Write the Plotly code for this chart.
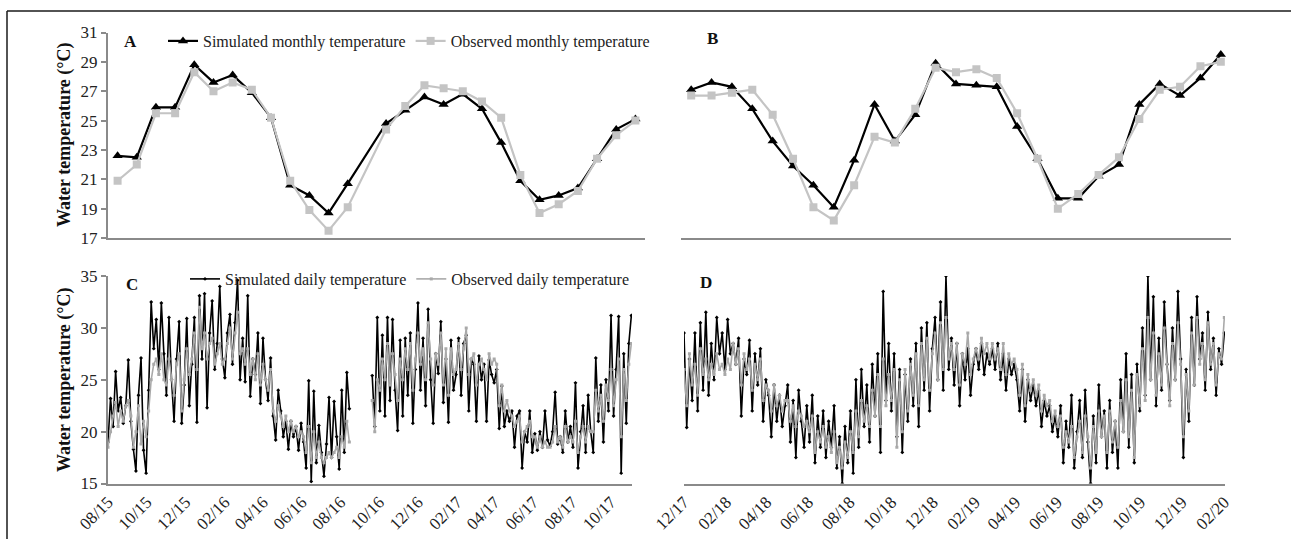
import plotly.graph_objects as go
import pandas as pd

W, H = 1291, 539
SERIF = "Liberation Serif, Times New Roman, serif"
OBS_M = "#c4c4c4"
OBS_D = "#a9a9a9"
AXC = "#8a8a8a"

# ---------------- monthly data ----------------
months_A = list(pd.date_range("2015-08-01", periods=28, freq="MS").strftime("%m/%y"))
A_sim = [22.6, 22.5, 25.9, 25.9, 28.8, 27.6, 28.1, 26.9, 25.2, 20.6, 19.9, 18.7, 20.7, None,
         24.8, 25.7, 26.6, 26.1, 26.8, 25.8, 23.5, 20.9, 19.6, 19.9, 20.4, 22.4, 24.4, 25.1]
A_obs = [20.9, 22.0, 25.5, 25.5, 28.3, 27.0, 27.6, 27.1, 25.2, 20.9, 18.9, 17.5, 19.1, None,
         24.4, 26.0, 27.4, 27.2, 27.0, 26.3, 25.2, 21.3, 18.7, 19.3, 20.2, 22.4, 24.0, 25.0]

months_B = list(pd.date_range("2017-12-01", periods=27, freq="MS").strftime("%m/%y"))
B_sim = [27.1, 27.6, 27.3, 25.8, 23.6, 21.9, 20.6, 19.1, 22.3, 26.1, 23.6, 25.4, 28.9, 27.5,
         27.4, 27.3, 24.6, 22.4, 19.7, 19.7, 21.2, 22.0, 26.1, 27.5, 26.7, 27.9, 29.5]
B_obs = [26.7, 26.7, 26.9, 27.1, 25.4, 22.4, 19.1, 18.2, 20.6, 23.9, 23.5, 25.8, 28.6, 28.3,
         28.5, 27.9, 25.5, 22.4, 19.0, 20.0, 21.3, 22.5, 25.1, 27.1, 27.3, 28.7, 29.0]

# ---------------- daily data (read every 4th day) ----------------
C_sim = [19.0, 23.2, 20.5, 25.8, 22.0, 23.3, 20.8, 22.5,
         26.9, 21.0, 18.3, 16.2, 23.5, 27.1, 18.2, 16.0,
         24.0, 32.5, 28.0, 30.8, 26.0, 32.4, 27.5,
         23.5, 31.0, 25.0, 21.0, 27.0, 30.6, 20.8, 24.5,
         30.9, 22.5, 26.5, 31.0, 20.9, 33.1, 27.0, 33.3,
         22.3, 29.5, 32.6, 26.0, 28.5, 34.0, 27.0,
         25.2, 29.5, 31.3, 26.5, 30.5, 34.6, 25.0, 29.0,
         24.8, 33.1, 23.4, 27.0, 25.5, 29.5, 22.7,
         29.0, 25.0, 23.0, 27.1, 21.5, 19.2, 24.0, 22.0,
         19.5, 21.0, 18.3, 21.0, 19.5, 20.5, 18.2, 20.8,
         19.0, 16.5, 24.9, 15.2, 23.9, 17.0, 20.6,
         18.0, 15.7, 18.8, 23.3, 17.5, 22.9, 19.5, 16.4,
         24.0, 18.0, 25.7, 22.2,
         None, None, None, None, None, None, None, None,
         25.4, 20.5, 31.0,
         22.0, 29.3, 21.5, 31.0, 23.0, 30.8, 24.0, 20.1,
         28.8, 21.5, 29.0, 23.5, 29.5, 20.8, 26.0,
         32.4, 24.0, 29.0, 22.5, 31.8, 25.0, 20.8, 27.5,
         25.6, 30.6, 22.8, 27.0, 20.9, 28.8, 24.0, 25.5,
         29.0, 23.5, 28.5, 29.3, 22.0, 27.0, 26.5,
         21.0, 27.3, 25.0, 26.5, 21.0, 26.9, 25.5, 24.7,
         26.0, 20.3, 24.4, 20.5, 22.0, 21.0, 22.0,
         18.5, 21.5, 22.0, 16.5, 20.0, 19.0, 22.0, 18.0,
         19.8, 18.2, 20.0, 18.5, 22.0, 19.2, 18.6,
         20.0, 23.8, 18.8, 19.5, 18.0, 22.0, 19.0, 20.5,
         18.5, 24.7, 16.5, 20.0, 22.5, 18.0, 23.5, 20.0,
         18.0, 27.1, 21.0, 24.5, 19.0, 25.0, 22.0,
         31.2, 21.5, 26.0, 31.1, 16.0, 27.5, 20.8, 28.5,
         31.2]
C_obs = [18.5, 20.0, 21.5, 22.8, 20.5, 22.0, 21.0, 22.5,
         23.0, 21.5, 18.5, 20.0, 22.5, 18.8, 21.0, 19.5,
         22.0, 25.0, 26.5, 27.0, 25.5, 27.5, 25.0,
         24.5, 27.0, 25.0, 23.5, 26.5, 27.5, 22.0, 25.0,
         28.0, 25.5, 27.0, 29.5, 26.0, 32.0, 28.0, 29.5,
         27.0, 28.5, 29.0, 26.5, 27.5, 28.5, 26.5,
         27.0, 28.5, 30.0, 27.0, 29.5, 31.5, 27.5, 28.0,
         26.5, 28.0, 25.5, 27.0, 25.0, 27.5, 24.5,
         26.5, 25.0, 24.0, 26.0, 22.0, 21.0, 22.5, 21.5,
         20.5, 21.5, 20.0, 21.0, 20.0, 20.5, 19.5, 20.0,
         19.5, 18.0, 20.5, 17.0, 20.0, 17.5, 19.0,
         17.5, 17.0, 17.5, 18.0, 17.5, 18.0, 18.5, 17.5,
         19.5, 18.5, 21.0, 19.0,
         None, None, None, None, None, None, None, None,
         23.0, 20.0, 25.0,
         24.0, 27.0, 25.0, 28.5, 24.5, 27.5, 25.5, 23.0,
         27.0, 25.0, 28.0, 26.0, 28.5, 24.0, 27.0,
         29.5, 26.5, 28.0, 25.0, 30.5, 27.0, 24.5, 27.5,
         26.5, 29.5, 24.5, 28.0, 23.5, 28.0, 25.5, 26.0,
         28.5, 26.0, 28.0, 30.0, 25.5, 27.0, 27.5,
         24.5, 26.5, 27.0, 26.0, 25.0, 27.5, 26.5, 27.0,
         26.5, 22.5, 24.5, 22.0, 23.0, 22.0, 21.5,
         20.5, 21.0, 21.5, 19.0, 20.0, 20.5, 21.0, 19.5,
         19.5, 18.5, 19.5, 18.5, 19.0, 18.5, 18.5,
         19.0, 20.5, 19.0, 19.5, 18.5, 20.5, 19.0, 19.5,
         19.0, 21.0, 18.0, 19.5, 20.5, 19.0, 20.5, 20.0,
         20.0, 24.0, 22.0, 23.5, 21.0, 24.5, 23.0,
         26.0, 22.5, 25.0, 27.0, 19.5, 26.0, 23.0, 26.5,
         28.5]

D_sim = [29.5, 20.4, 27.0, 23.0, 29.5, 22.0, 30.5, 24.0,
         31.5, 23.5, 28.5, 25.0, 31.0, 27.5, 29.5, 26.0,
         30.8, 27.5, 28.5, 26.5, 29.0, 21.5, 27.0,
         25.5, 28.8, 22.0, 27.5, 24.5, 28.0, 21.0, 25.0,
         23.5, 19.5, 24.5, 21.0, 23.5, 20.5, 22.5,
         24.5, 19.0, 23.0, 17.5, 24.0, 21.0, 18.5, 22.5,
         19.0, 23.5, 17.0, 21.5, 18.5, 22.0, 17.5,
         21.0, 18.5, 22.5, 16.5, 19.5, 15.0, 20.5, 17.0,
         22.0, 16.0, 25.0, 18.5, 26.0, 20.5, 24.5, 19.0,
         26.5, 21.5, 27.5, 18.0, 33.5, 23.0, 28.5,
         22.0, 27.5, 19.5, 26.0, 18.0, 25.5, 21.0, 27.0,
         22.5, 28.5, 20.5, 30.0, 24.0, 30.5, 22.0, 28.0,
         31.0, 25.0, 32.5, 24.0, 35.0, 26.0, 29.0,
         24.5, 28.5, 22.5, 27.5, 25.0, 28.0, 23.5, 26.5,
         28.0, 26.0, 28.5, 25.5, 27.5, 26.5, 28.0,
         26.0, 28.5, 25.0, 27.5, 24.0, 27.0, 25.5, 26.5,
         25.0, 22.0, 26.0, 21.0, 25.0, 23.0, 24.5,
         22.5, 24.0, 20.5, 23.0, 21.5, 22.5, 20.0, 21.5,
         19.5, 22.5, 17.0, 21.0, 18.5, 23.5, 16.5, 20.0,
         23.0, 17.5, 24.0, 19.0, 15.0, 21.5, 17.0,
         24.5, 19.5, 22.0, 16.5, 23.0, 18.0, 21.0, 16.5,
         25.0, 20.0, 27.5, 18.5, 25.5, 17.0, 26.5, 22.0,
         30.0, 23.5, 35.0, 25.0, 33.0, 22.5, 29.0,
         24.0, 32.5, 26.5, 23.0, 30.0, 25.0, 33.5, 27.0,
         17.5, 26.0, 21.0, 31.0, 24.5, 33.0, 27.0, 29.5,
         24.0, 31.5, 26.0, 29.0, 23.5, 28.0, 26.5,
         29.5]
D_obs = [26.0, 22.5, 27.5, 24.5, 26.5, 23.5, 28.0, 25.5,
         27.0, 25.0, 26.5, 25.5, 27.5, 26.0, 26.5, 25.5,
         27.0, 26.0, 28.5, 26.5, 28.0, 24.5, 27.5,
         26.0, 27.0, 24.0, 26.5, 25.0, 27.0, 23.0, 24.5,
         24.0, 22.0, 24.5, 22.5, 23.5, 22.0, 23.0,
         23.0, 21.0, 22.5, 20.5, 22.0, 21.5, 20.5, 21.0,
         20.0, 21.5, 18.0, 20.0, 19.0, 20.5, 18.5,
         19.5, 18.0, 20.0, 17.0, 18.5, 16.5, 19.0, 17.5,
         20.0, 18.0, 22.0, 19.5, 23.0, 21.0, 22.5, 20.5,
         24.0, 21.5, 25.5, 20.5, 27.0, 22.5, 25.5,
         23.0, 26.0, 18.5, 25.0, 20.0, 26.0, 22.0, 26.5,
         23.5, 27.5, 22.5, 28.5, 25.0, 29.0, 24.0, 27.5,
         29.5, 25.0, 30.5, 26.0, 31.0, 27.0, 28.5,
         26.0, 28.5, 24.5, 27.5, 26.5, 29.5, 25.5, 27.0,
         28.0, 27.0, 29.0, 27.5, 28.5, 27.0, 28.5,
         27.0, 28.0, 26.0, 28.5, 25.5, 27.5, 26.5, 27.0,
         26.0, 23.5, 26.5, 22.5, 25.5, 24.0, 25.0,
         23.5, 24.5, 22.0, 23.5, 22.5, 23.0, 21.0, 22.0,
         20.5, 21.5, 18.5, 20.0, 19.0, 20.5, 17.5, 19.5,
         21.0, 18.0, 21.5, 19.5, 16.5, 20.5, 18.0,
         22.0, 19.5, 21.5, 18.0, 22.0, 19.0, 21.0, 18.5,
         23.0, 20.0, 25.0, 19.5, 24.0, 17.5, 25.5, 22.5,
         28.0, 23.0, 31.0, 25.0, 29.5, 23.5, 27.5,
         24.5, 30.0, 26.5, 22.5, 28.5, 25.0, 30.5, 26.5,
         19.5, 25.5, 22.0, 29.5, 24.5, 31.0, 26.5, 28.5,
         25.0, 30.5, 26.5, 28.5, 24.5, 27.5, 27.0,
         31.0]

C_dates = pd.date_range("2015-08-01", periods=len(C_sim), freq="4D")
D_dates = pd.date_range("2017-12-01", periods=len(D_sim), freq="4D")

fig = go.Figure()

# A
fig.add_trace(go.Scatter(x=months_A, y=A_sim, mode="lines+markers", name="Simulated monthly temperature",
                         line=dict(color="black", width=2.2), marker=dict(symbol="triangle-up", size=9, color="black"),
                         connectgaps=True, xaxis="x", yaxis="y", legend="legend"))
fig.add_trace(go.Scatter(x=months_A, y=A_obs, mode="lines+markers", name="Observed monthly temperature",
                         line=dict(color=OBS_M, width=2.2), marker=dict(symbol="square", size=8, color=OBS_M),
                         connectgaps=True, xaxis="x", yaxis="y", legend="legend"))
# B
fig.add_trace(go.Scatter(x=months_B, y=B_sim, mode="lines+markers", showlegend=False,
                         line=dict(color="black", width=2.2), marker=dict(symbol="triangle-up", size=9, color="black"),
                         xaxis="x2", yaxis="y2"))
fig.add_trace(go.Scatter(x=months_B, y=B_obs, mode="lines+markers", showlegend=False,
                         line=dict(color=OBS_M, width=2.2), marker=dict(symbol="square", size=8, color=OBS_M),
                         xaxis="x2", yaxis="y2"))
# C
fig.add_trace(go.Scatter(x=C_dates, y=C_sim, mode="lines+markers", name="Simulated daily temperature",
                         line=dict(color="black", width=1.6), marker=dict(symbol="diamond", size=3, color="black"),
                         connectgaps=False, xaxis="x3", yaxis="y3", legend="legend2"))
fig.add_trace(go.Scatter(x=C_dates, y=C_obs, mode="lines+markers", name="Observed daily temperature",
                         line=dict(color=OBS_D, width=1.6), marker=dict(symbol="square", size=3, color=OBS_D),
                         connectgaps=False, xaxis="x3", yaxis="y3", legend="legend2"))
# D
fig.add_trace(go.Scatter(x=D_dates, y=D_sim, mode="lines+markers", showlegend=False,
                         line=dict(color="black", width=1.6), marker=dict(symbol="diamond", size=3, color="black"),
                         xaxis="x4", yaxis="y4"))
fig.add_trace(go.Scatter(x=D_dates, y=D_obs, mode="lines+markers", showlegend=False,
                         line=dict(color=OBS_D, width=1.6), marker=dict(symbol="square", size=3, color=OBS_D),
                         xaxis="x4", yaxis="y4"))

def px(x):
    return x / W

def py(y):
    return 1 - y / H

tickfont = dict(family=SERIF, size=17, color="#222")
common_x = dict(showline=True, linecolor=AXC, linewidth=2, showgrid=False, zeroline=False)

fig.update_layout(
    width=W, height=H, margin=dict(l=0, r=0, t=0, b=0, pad=0, autoexpand=False),
    paper_bgcolor="white", plot_bgcolor="white",
    font=dict(family=SERIF, color="#222"),
    xaxis=dict(domain=[px(108), px(645)], type="category", range=[-0.5, 27.5],
               showticklabels=False, ticks="", anchor="y", **common_x),
    yaxis=dict(domain=[py(238), py(32.5)], range=[17, 31], dtick=2, tick0=17,
               showline=True, linecolor=AXC, linewidth=2, ticks="outside", ticklen=5,
               tickcolor=AXC, tickwidth=1.5, showgrid=False, zeroline=False,
               tickfont=tickfont, anchor="x"),
    xaxis2=dict(domain=[px(681), px(1231)], type="category", range=[-0.5, 26.5],
                showticklabels=False, ticks="", anchor="y2", **common_x),
    yaxis2=dict(domain=[py(238), py(32.5)], range=[17, 31], visible=False, anchor="x2"),
    xaxis3=dict(domain=[px(108), px(632)], type="date", range=["2015-08-01", "2017-11-03"],
                tick0="2015-08-01", dtick="M2", tickformat="%m/%y", tickangle=-45,
                ticks="", tickfont=tickfont, anchor="y3", **common_x),
    yaxis3=dict(domain=[py(483.5), py(276)], range=[15, 35], dtick=5, tick0=15,
                showline=True, linecolor=AXC, linewidth=2, ticks="outside", ticklen=5,
                tickcolor=AXC, tickwidth=1.5, showgrid=False, zeroline=False,
                tickfont=tickfont, anchor="x3"),
    xaxis4=dict(domain=[px(684), px(1225)], type="date", range=["2017-12-01", "2020-02-02"],
                tick0="2017-12-01", dtick="M2", tickformat="%m/%y", tickangle=-45,
                ticks="", tickfont=tickfont, anchor="y4", **common_x),
    yaxis4=dict(domain=[py(483.5), py(276)], range=[15, 35], visible=False, anchor="x4"),
    legend=dict(x=px(163), y=py(24), xanchor="left", yanchor="top", orientation="h",
                font=dict(family=SERIF, size=16, color="#222"), bgcolor="rgba(0,0,0,0)",
                itemwidth=30, tracegroupgap=0),
    legend2=dict(x=px(185), y=py(262), xanchor="left", yanchor="top", orientation="h",
                 font=dict(family=SERIF, size=16, color="#222"), bgcolor="rgba(0,0,0,0)",
                 itemwidth=30, tracegroupgap=0),
    showlegend=True,
)

ann = []
for txt, x, y in [("A", 130, 41), ("B", 712, 38), ("C", 132, 284), ("D", 706, 282)]:
    ann.append(dict(text="<b>%s</b>" % txt, x=px(x), y=py(y), xref="paper", yref="paper",
                    showarrow=False, font=dict(family=SERIF, size=17, color="#111"),
                    xanchor="center", yanchor="middle"))
for yc in (135, 380):
    ann.append(dict(text="<b>Water temperature (°C)</b>", x=px(64), y=py(yc), xref="paper", yref="paper",
                    showarrow=False, textangle=-90, font=dict(family=SERIF, size=18, color="#111"),
                    xanchor="center", yanchor="middle"))
fig.update_layout(annotations=ann)

fig.add_shape(type="line", xref="paper", yref="paper", x0=px(7), x1=1, y0=py(11), y1=py(11),
              line=dict(color="#1a1a1a", width=1.5))
fig.add_shape(type="line", xref="paper", yref="paper", x0=px(7), x1=px(7), y0=0, y1=py(11),
              line=dict(color="#1a1a1a", width=1.5))

fig.write_html("out.html", config={"displayModeBar": False},
               post_script="document.body.style.margin='0';document.body.style.overflow='hidden';")
